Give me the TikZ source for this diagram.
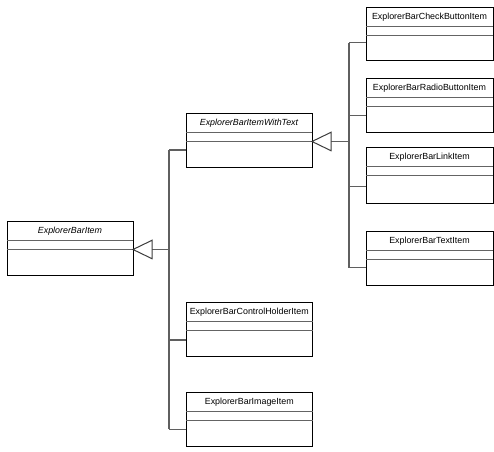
\documentclass[tikz,border=0pt]{standalone}
\usepackage{fontspec}
\setmainfont{Liberation Sans}
\definecolor{conncol}{RGB}{95,95,95}
\definecolor{divcol}{RGB}{100,100,100}
\definecolor{tricol}{RGB}{60,60,60}
\tikzset{
  classbox/.style={draw=black, line width=0.75pt, fill=white, rectangle, inner sep=0pt, outer sep=0pt, anchor=north west},
  divider/.style={draw=divcol, line width=0.9pt},
  classname/.style={font=\fontsize{6.66}{8}\selectfont, inner sep=0pt, anchor=center},
  conn/.style={draw=conncol, line width=0.9pt},
  inhtri/.style={draw=tricol, line width=0.75pt, fill=white, line join=miter},
}
\newcommand\umlclass[7][]{%
  \node[classbox, minimum width=#5*0.75pt, minimum height=#6*0.75pt] (#2) at (#3,#4) {};
  \draw[divider] ([shift={(0,18.5)}]#2.north west) -- ([shift={(0,18.5)}]#2.north east);
  \draw[divider] ([shift={(0,27.5)}]#2.north west) -- ([shift={(0,27.5)}]#2.north east);
  \node[classname,#1] (#2-name) at ([shift={(0,9)}]#2.north) {#7};
}
\begin{document}
\begin{tikzpicture}[x=0.75pt, y=-0.75pt]
\useasboundingbox (0,0) rectangle (494,452);
% classes
\umlclass[font=\fontsize{6.66}{8}\selectfont\itshape]{Item}{7}{222}{126}{54}{ExplorerBarItem}
\umlclass[font=\fontsize{6.66}{8}\selectfont\itshape]{WithText}{186}{114}{126}{54}{ExplorerBarItemWithText}
\umlclass{Holder}{186}{303}{126.5}{54}{ExplorerBarControlHolderItem}
\umlclass{Image}{186}{393}{126.5}{54}{ExplorerBarImageItem}
\umlclass{Check}{366}{8}{127}{52.5}{ExplorerBarCheckButtonItem}
\umlclass{Radio}{366}{79}{127}{54}{ExplorerBarRadioButtonItem}
\umlclass{Link}{366}{148}{127}{56}{ExplorerBarLinkItem}
\umlclass{Text}{366}{232}{127}{54}{ExplorerBarTextItem}
% inheritance to ExplorerBarItem
\coordinate (tipA) at ([shift={(0,27.5)}]Item.north east);
\coordinate (baseA) at ([shift={(19,0)}]tipA);
\coordinate (busA) at ([shift={(36,0)}]tipA);
\coordinate (wtA) at ([shift={(0,36)}]WithText.north west);
\coordinate (hoA) at ([shift={(0,37)}]Holder.north west);
\coordinate (imA) at ([shift={(0,36.3)}]Image.north west);
\draw[conn] (busA |- wtA) -- (busA |- imA);
\draw[conn] (wtA) -- (busA |- wtA);
\draw[conn] (hoA) -- (busA |- hoA);
\draw[conn] (imA) -- (busA |- imA);
\draw[conn] (busA) -- (baseA);
\draw[inhtri] (tipA) -- ([shift={(0,-9.2)}]baseA) -- ([shift={(0,9.2)}]baseA) -- cycle;
% inheritance to ExplorerBarItemWithText
\coordinate (tipB) at ([shift={(0,27.5)}]WithText.north east);
\coordinate (baseB) at ([shift={(19,0)}]tipB);
\coordinate (busB) at ([shift={(37,0)}]tipB);
\coordinate (chB) at ([shift={(0,34.7)}]Check.north west);
\coordinate (raB) at ([shift={(0,36.3)}]Radio.north west);
\coordinate (liB) at ([shift={(0,38.7)}]Link.north west);
\coordinate (teB) at ([shift={(0,35.7)}]Text.north west);
\draw[conn] (busB |- chB) -- (busB |- teB);
\draw[conn] (chB) -- (busB |- chB);
\draw[conn] (raB) -- (busB |- raB);
\draw[conn] (liB) -- (busB |- liB);
\draw[conn] (teB) -- (busB |- teB);
\draw[conn] (busB) -- (baseB);
\draw[inhtri] (tipB) -- ([shift={(0,-9.2)}]baseB) -- ([shift={(0,9.2)}]baseB) -- cycle;
\end{tikzpicture}
\end{document}
